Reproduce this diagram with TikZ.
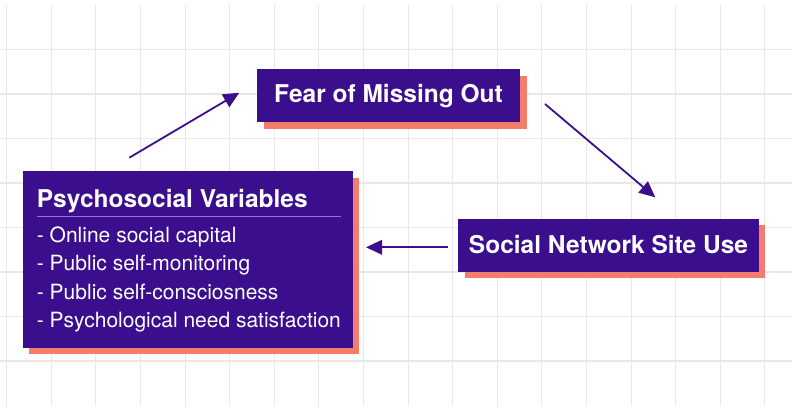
\documentclass[tikz,border=0pt]{standalone}
\usepackage{fontspec}
\setmainfont{TeX Gyre Heros}
\usetikzlibrary{arrows.meta,shadows}

\definecolor{boxpurple}{HTML}{3B0E8E}
\definecolor{salmon}{HTML}{F47C6B}
\definecolor{gridgray}{HTML}{E8E8E8}
\definecolor{rulepurple}{HTML}{8E6FE4}

\tikzset{
  card/.style={rectangle, fill=boxpurple, inner sep=0pt,
    drop shadow={shadow xshift=6.6pt, shadow yshift=-6.6pt, fill=salmon, opacity=1}},
  headtext/.style={text=white, anchor=base, inner sep=0pt,
    font=\fontsize{24.5}{29}\selectfont\bfseries},
  itemtext/.style={text=white, anchor=base west, inner sep=0pt,
    font=\fontsize{21}{25}\selectfont},
  link/.style={draw=boxpurple, line width=1.8pt,
    -{Triangle[length=16pt,width=14.5pt]}},
  gridline/.style={draw=gridgray, line width=1.1pt}
}

\begin{document}
\begin{tikzpicture}[x=1pt,y=-1pt]
  \useasboundingbox[fill=white] (0,0) rectangle (792,411);

  % background grid
  \foreach \k in {0,...,17}
    \draw[gridline] ({6.7+44.6*\k},5) -- ({6.7+44.6*\k},406);
  \foreach \k in {0,...,7}
    \draw[gridline] (0,{49.5+44.5*\k}) -- (792,{49.5+44.5*\k});

  % cards
  \node[card, minimum width=263pt, minimum height=53pt] (fomo) at (388.5,95.5) {};
  \node[card, minimum width=300.4pt, minimum height=53pt] (sns) at (608.5,245.2) {};
  \node[card, minimum width=330pt, minimum height=176.7pt] (psy) at (187.7,259.35) {};

  % card texts
  \node[headtext] (fomot) at (388.5,102.7) {Fear of Missing Out};
  \node[headtext] (snst) at (608.5,254) {Social Network Site Use};
  \node[headtext, anchor=base west] (psyt) at (36.7,208) {Psychosocial Variables};
  \draw[draw=rulepurple, line width=1.2pt] (36.7,216.7) -- (340.7,216.7);
  \node[itemtext] (i1) at (36.7,242.7) {- Online social capital};
  \node[itemtext] (i2) at (36.7,271) {- Public self-monitoring};
  \node[itemtext] (i3) at (36.7,299.2) {- Public self-consciosness};
  \node[itemtext] (i4) at (36.7,327.3) {- Psychological need satisfaction};

  % connector end points
  \coordinate (a1s) at (129.3,157.7);
  \coordinate (a1e) at (239.3,92.7);
  \coordinate (a2s) at (545,104);
  \coordinate (a2e) at (655.3,197.3);
  \coordinate (a3s) at (448.3,247.3);
  \coordinate (a3e) at (366,247.3);

  \draw[link] (a1s) -- (a1e);
  \draw[link] (a2s) -- (a2e);
  \draw[link] (a3s) -- (a3e);
\end{tikzpicture}
\end{document}
